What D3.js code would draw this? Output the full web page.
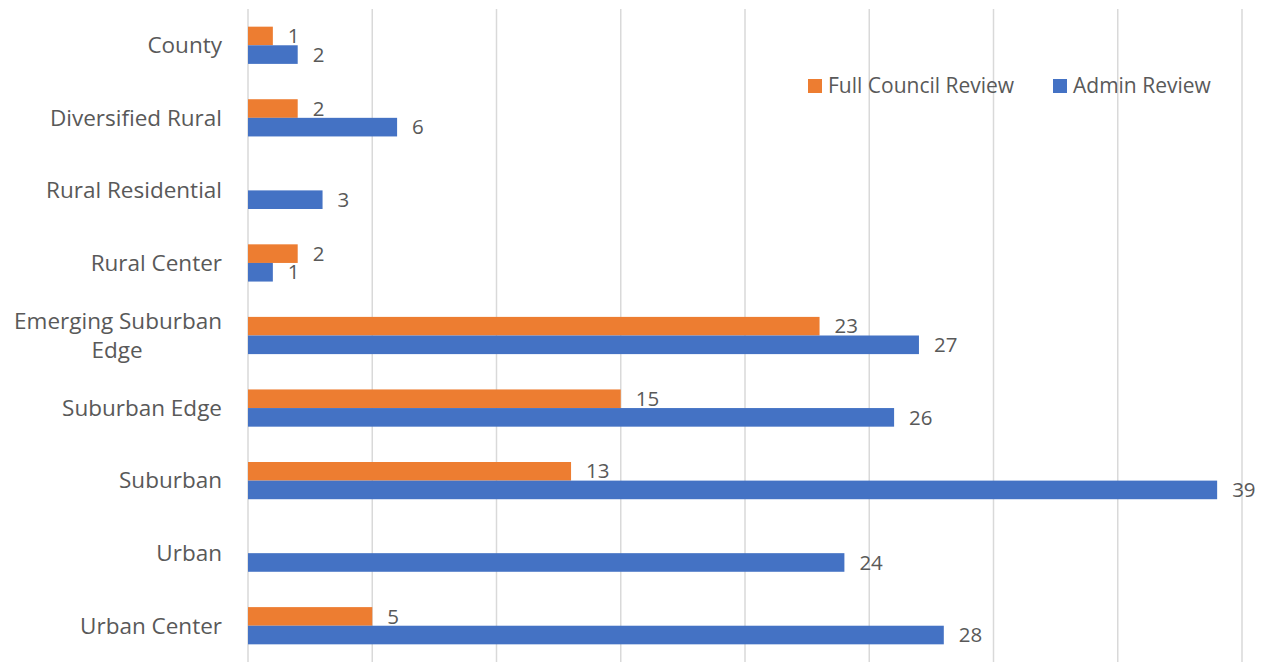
<!DOCTYPE html>
<html><head><meta charset="utf-8">
<script src="https://cdn.jsdelivr.net/npm/d3@7"></script>
<style>body{margin:0;background:#fff;} svg{display:block;}</style>
</head><body>
<svg id="c" width="1273" height="662"></svg>
<script>
const categories = ["County","Diversified Rural","Rural Residential","Rural Center","Emerging Suburban Edge","Suburban Edge","Suburban","Urban","Urban Center"];
const fullCouncil = [1,2,null,2,23,15,13,null,5];
const adminReview = [2,6,3,1,27,26,39,24,28];
const seriesNames = ["Full Council Review","Admin Review"];
const xTicks = [0,5,10,15,20,25,30,35,40];

(function(){
const colors = ["#ED7D31","#4472C4"];
const textColor = "#595959";
const font = "'Open Sans', sans-serif";
const svg = d3.select("#c");
const pLeft = 248, pRight = 1242, pTop = 9, pBottom = 662;

const x = d3.scaleLinear().domain([0,40]).range([pLeft,pRight]);
const y = d3.scaleBand().domain(categories).range([pTop,pBottom]).paddingInner(0.487).paddingOuter(0.2435);
const sub = d3.scaleBand().domain(seriesNames).range([0,y.bandwidth()]);

svg.append("g").selectAll("line").data(xTicks).join("line")
  .attr("x1",d=>x(d)).attr("x2",d=>x(d)).attr("y1",pTop).attr("y2",pBottom)
  .attr("stroke","#d9d9d9").attr("stroke-width",1.5);

const series = [fullCouncil, adminReview];
series.forEach((vals,si)=>{
  const data = categories.map((c,i)=>({c,v:vals[i]})).filter(d=>d.v!=null);
  const g = svg.append("g");
  g.selectAll("rect").data(data).join("rect")
    .attr("x",x(0)).attr("y",d=>y(d.c)+sub(seriesNames[si]))
    .attr("width",d=>x(d.v)-x(0)).attr("height",sub.bandwidth())
    .attr("fill",colors[si]);
  g.selectAll("text").data(data).join("text")
    .attr("x",d=>x(d.v)+15).attr("y",d=>y(d.c)+sub(seriesNames[si])+sub.bandwidth()/2)
    .attr("dy","0.35em").attr("fill",textColor).attr("font-family",font).attr("font-size",20.5)
    .text(d=>d.v);
});

const lab = svg.append("g");
categories.forEach(c=>{
  const cy = y(c)+y.bandwidth()/2;
  const t = lab.append("text").attr("x",222).attr("text-anchor","end").attr("fill",textColor)
    .attr("font-family",font).attr("font-size",22.5);
  if(c==="Emerging Suburban Edge"){
    t.append("tspan").attr("x",222).attr("y",cy-14.5).attr("dy","0.35em").attr("text-anchor","end").text("Emerging Suburban");
    t.append("tspan").attr("x",117).attr("y",cy+14.5).attr("dy","0.35em").attr("text-anchor","middle").text("Edge");
  } else {
    t.attr("y",cy).attr("dy","0.35em").text(c);
  }
});

const leg = svg.append("g");
const legX = [808,1053];
seriesNames.forEach((n,i)=>{
  leg.append("rect").attr("x",legX[i]).attr("y",79).attr("width",14).attr("height",14).attr("fill",colors[i]);
  leg.append("text").attr("x",legX[i]+20).attr("y",86).attr("dy","0.35em").attr("fill",textColor)
    .attr("font-family",font).attr("font-size",21).text(n);
});
})();
</script>
</body></html>
